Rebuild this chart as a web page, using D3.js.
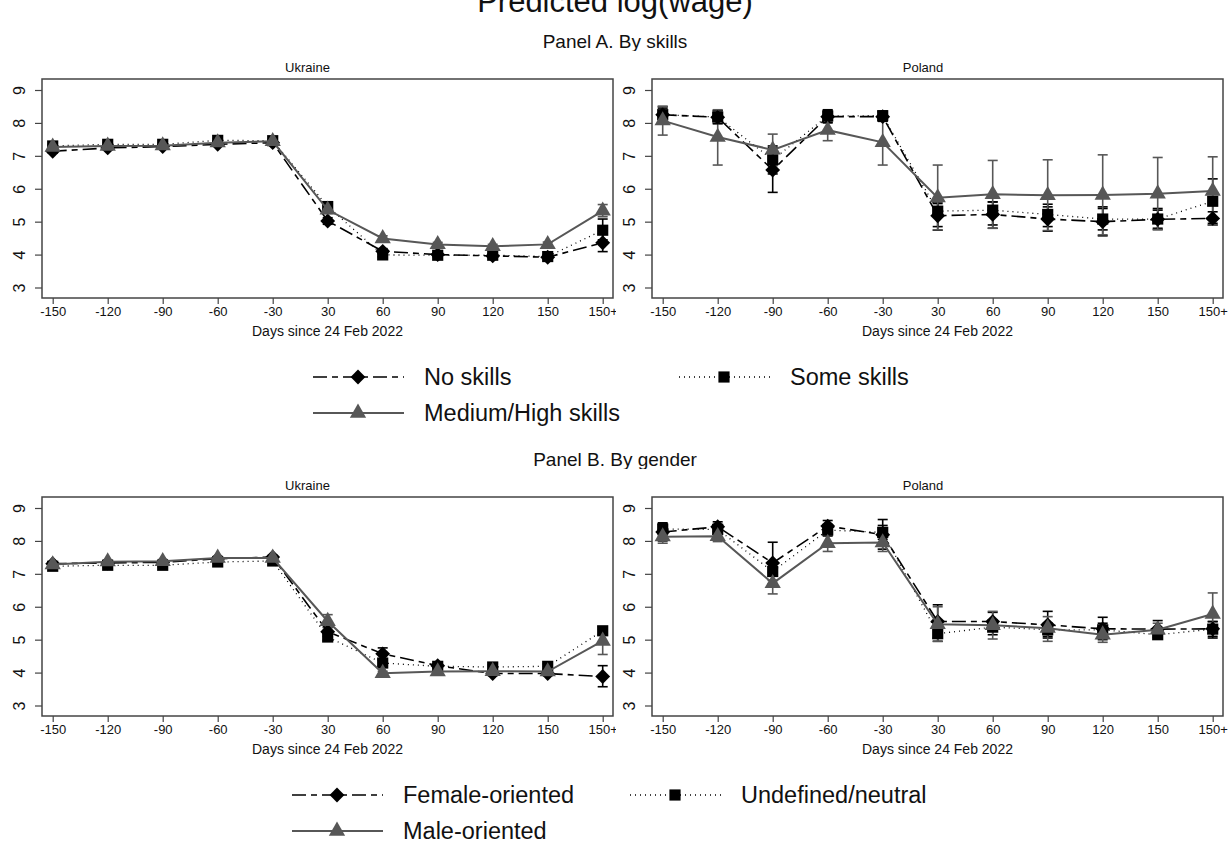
<!DOCTYPE html>
<html lang="en">
<head>
<meta charset="utf-8">
<script src="https://cdnjs.cloudflare.com/ajax/libs/d3/7.8.5/d3.min.js"></script>
<style>
  body { margin: 0; background: #fff; }
  svg { font-family: "Liberation Sans", Arial, sans-serif; display: block; }
  .axis path, .axis line { stroke: #444; stroke-width: 1.2; }
  .axis text { fill: #111; font-size: 13px; }
</style>
</head>
<body>
<svg width="1230" height="843"></svg>
<script>
// x categories (days since 24 Feb 2022)
var days = ["-150", "-120", "-90", "-60", "-30", "30", "60", "90", "120", "150", "150+"];
var yTicks = [3, 4, 5, 6, 7, 8, 9];

// Panel A - Ukraine, by skills
var uaNoSkills     = [7.14, 7.24, 7.28, 7.35, 7.40, 5.02, 4.10, 4.00, 3.96, 3.92, 4.36];
var uaNoSkillsLo   = [7.08, 7.19, 7.23, 7.30, 7.35, 4.92, 4.02, 3.94, 3.90, 3.85, 4.09];
var uaNoSkillsHi   = [7.20, 7.29, 7.33, 7.40, 7.45, 5.12, 4.18, 4.06, 4.02, 3.99, 4.63];
var uaSomeSkills   = [7.30, 7.35, 7.35, 7.47, 7.46, 5.46, 3.99, 3.98, 3.98, 3.94, 4.74];
var uaSomeSkillsLo = [7.25, 7.30, 7.30, 7.42, 7.41, 5.36, 3.93, 3.93, 3.93, 3.88, 4.45];
var uaSomeSkillsHi = [7.35, 7.40, 7.40, 7.52, 7.51, 5.56, 4.05, 4.03, 4.03, 4.00, 5.08];
var uaMedSkills    = [7.27, 7.30, 7.31, 7.40, 7.44, 5.36, 4.49, 4.31, 4.25, 4.31, 5.33];
var uaMedSkillsLo  = [7.22, 7.25, 7.26, 7.35, 7.39, 5.25, 4.42, 4.25, 4.19, 4.24, 5.15];
var uaMedSkillsHi  = [7.32, 7.35, 7.36, 7.45, 7.49, 5.50, 4.57, 4.37, 4.31, 4.38, 5.52];

// Panel A - Poland, by skills
var plNoSkills     = [8.25, 8.17, 6.57, 8.19, 8.19, 5.18, 5.22, 5.08, 5.00, 5.07, 5.10];
var plNoSkillsLo   = [8.05, 7.98, 5.89, 8.00, 8.05, 4.74, 4.80, 4.71, 4.57, 4.76, 4.90];
var plNoSkillsHi   = [8.45, 8.37, 7.25, 8.38, 8.33, 5.55, 5.60, 5.45, 5.45, 5.40, 5.30];
var plSomeSkills   = [8.25, 8.18, 6.88, 8.21, 8.22, 5.32, 5.35, 5.22, 5.08, 5.08, 5.62];
var plSomeSkillsLo = [8.00, 7.98, 6.45, 8.02, 8.05, 4.85, 4.90, 4.85, 4.75, 4.80, 4.95];
var plSomeSkillsHi = [8.50, 8.38, 7.30, 8.40, 8.36, 5.60, 5.60, 5.53, 5.40, 5.35, 6.30];
var plMedSkills    = [8.07, 7.57, 7.18, 7.78, 7.41, 5.73, 5.83, 5.80, 5.81, 5.85, 5.93];
var plMedSkillsLo  = [7.63, 6.72, 6.70, 7.46, 6.72, 4.75, 4.80, 4.73, 4.60, 4.76, 4.90];
var plMedSkillsHi  = [8.50, 8.40, 7.66, 8.10, 8.10, 6.72, 6.86, 6.88, 7.03, 6.95, 6.97];

// Panel B - Ukraine, by gender
var uaFemale     = [7.31, 7.33, 7.35, 7.46, 7.51, 5.24, 4.57, 4.21, 3.97, 3.97, 3.88];
var uaFemaleLo   = [7.26, 7.28, 7.30, 7.41, 7.46, 5.10, 4.40, 4.14, 3.91, 3.91, 3.57];
var uaFemaleHi   = [7.36, 7.38, 7.40, 7.51, 7.56, 5.38, 4.75, 4.28, 4.03, 4.03, 4.21];
var uaNeutral    = [7.23, 7.26, 7.26, 7.36, 7.39, 5.08, 4.29, 4.19, 4.17, 4.19, 5.27];
var uaNeutralLo  = [7.18, 7.21, 7.21, 7.31, 7.34, 4.98, 4.20, 4.13, 4.11, 4.12, 5.15];
var uaNeutralHi  = [7.28, 7.31, 7.31, 7.41, 7.44, 5.18, 4.38, 4.25, 4.23, 4.26, 5.39];
var uaMale       = [7.28, 7.37, 7.38, 7.48, 7.48, 5.56, 3.98, 4.03, 4.04, 4.03, 4.96];
var uaMaleLo     = [7.23, 7.32, 7.33, 7.43, 7.43, 5.36, 3.92, 3.97, 3.98, 3.97, 4.55];
var uaMaleHi     = [7.33, 7.42, 7.43, 7.53, 7.53, 5.76, 4.04, 4.09, 4.10, 4.09, 5.32];

// Panel B - Poland, by gender
var plFemale     = [8.27, 8.43, 7.33, 8.45, 8.19, 5.55, 5.55, 5.45, 5.33, 5.32, 5.33];
var plFemaleLo   = [8.00, 8.27, 6.70, 8.27, 7.75, 5.05, 5.28, 5.05, 5.00, 5.15, 5.05];
var plFemaleHi   = [8.52, 8.58, 7.96, 8.62, 8.65, 6.06, 5.83, 5.86, 5.68, 5.58, 5.55];
var plNeutral    = [8.36, 8.35, 7.07, 8.33, 8.26, 5.18, 5.38, 5.30, 5.30, 5.15, 5.32];
var plNeutralLo  = [8.15, 8.20, 6.80, 8.15, 8.05, 4.95, 5.15, 5.10, 5.10, 5.07, 5.10];
var plNeutralHi  = [8.55, 8.50, 7.35, 8.50, 8.47, 5.45, 5.60, 5.50, 5.50, 5.25, 5.55];
var plMale       = [8.13, 8.14, 6.71, 7.93, 7.95, 5.47, 5.44, 5.35, 5.15, 5.30, 5.78];
var plMaleLo     = [7.93, 7.98, 6.39, 7.68, 7.68, 4.95, 5.02, 4.95, 4.92, 5.10, 5.20];
var plMaleHi     = [8.33, 8.30, 7.05, 8.18, 8.22, 6.00, 5.86, 5.70, 5.40, 5.50, 6.42];

var skillNames  = ["No skills", "Some skills", "Medium/High skills"];
var genderNames = ["Female-oriented", "Undefined/neutral", "Male-oriented"];

// line / marker styles for series 0,1,2 (diamond = square turned 45deg)
var styles = [
  { color: "#000", dash: "14,5,6,5", width: 1.6, symbol: d3.symbolSquare, size: 110, rot: 45 },
  { color: "#000", dash: "1,4", width: 1.3, symbol: d3.symbolSquare, size: 125, rot: 0 },
  { color: "#575757", dash: null, width: 2, symbol: d3.symbolTriangle, size: 115, rot: 0 }
];

var svg = d3.select("svg");
svg.append("rect").attr("width", 1230).attr("height", 843).attr("fill", "#fff");

// title cut off at the top, as in the source image
svg.append("text").attr("x", 615).attr("y", 12).attr("text-anchor", "middle")
  .attr("font-size", 31).attr("fill", "#111").text("Predicted log(wage)");

svg.append("text").attr("x", 615).attr("y", 48).attr("text-anchor", "middle")
  .attr("font-size", 19).attr("fill", "#111").text("Panel A. By skills");
svg.append("text").attr("x", 615).attr("y", 466).attr("text-anchor", "middle")
  .attr("font-size", 19).attr("fill", "#111").text("Panel B. By gender");

function drawPanel(box, title, series) {
  var g = svg.append("g");
  // white background of subgraph (covers overflow of neighbour)
  g.append("rect").attr("x", box.gx).attr("y", box.y0 - 28).attr("width", box.gw)
    .attr("height", box.y1 - box.y0 + 70).attr("fill", "#fff");

  var x = d3.scalePoint().domain(days).range([box.x0 + 10.7, box.x1 - 10.3]);
  var y = d3.scaleLinear().domain([3, 9]).range([box.y1 - 10.5, box.y0 + 11]);

  g.append("text").attr("x", box.gx + box.gw / 2).attr("y", box.y0 - 7)
    .attr("text-anchor", "middle").attr("font-size", 13).attr("fill", "#111").text(title);

  g.append("rect").attr("x", box.x0).attr("y", box.y0)
    .attr("width", box.x1 - box.x0).attr("height", box.y1 - box.y0)
    .attr("fill", "none").attr("stroke", "#444").attr("stroke-width", 1.5);

  var ya = g.append("g").attr("class", "axis")
    .attr("transform", "translate(" + box.x0 + ",0)")
    .call(d3.axisLeft(y).tickValues(yTicks).tickSize(7).tickFormat(d3.format("d")));
  ya.select(".domain").remove();
  ya.selectAll("text")
    .attr("x", 0)
    .attr("transform", "translate(-23,0) rotate(-90)")
    .attr("dy", "0.35em").attr("text-anchor", "middle")
    .style("font-size", "16px");

  var xa = g.append("g").attr("class", "axis")
    .attr("transform", "translate(0," + box.y1 + ")")
    .call(d3.axisBottom(x).tickSize(6).tickPadding(3));
  xa.select(".domain").remove();

  g.append("text").attr("x", (box.x0 + box.x1) / 2).attr("y", box.y1 + 38)
    .attr("text-anchor", "middle").attr("font-size", 14).attr("fill", "#111")
    .text("Days since 24 Feb 2022");

  // error bars first
  series.forEach(function(s, k) {
    var st = styles[k];
    var eb = g.append("g").attr("stroke", st.color).attr("stroke-width", 1.6);
    days.forEach(function(d, i) {
      var cx = x(d);
      eb.append("line").attr("x1", cx).attr("x2", cx)
        .attr("y1", y(s.lo[i])).attr("y2", y(s.hi[i]));
      [s.lo[i], s.hi[i]].forEach(function(v) {
        eb.append("line").attr("x1", cx - 5).attr("x2", cx + 5)
          .attr("y1", y(v)).attr("y2", y(v));
      });
    });
  });

  series.forEach(function(s, k) {
    var st = styles[k];
    var line = d3.line().x(function(d, i) { return x(days[i]); }).y(function(d) { return y(d); });
    g.append("path").datum(s.v).attr("d", line).attr("fill", "none")
      .attr("stroke", st.color).attr("stroke-width", st.width)
      .attr("stroke-dasharray", st.dash);
    g.selectAll(null).data(s.v).enter().append("path")
      .attr("d", d3.symbol().type(st.symbol).size(st.size))
      .attr("transform", function(d, i) {
        return "translate(" + x(days[i]) + "," + y(d) + ") rotate(" + st.rot + ")";
      })
      .attr("fill", st.color);
  });
}

function legend(ly, names, xs) {
  // xs: [line start for col1, line start for col2]
  var pos = [[xs[0], ly], [xs[1], ly], [xs[0], ly + 36]];
  names.forEach(function(n, k) {
    var st = styles[k];
    var lx = pos[k][0], yy = pos[k][1];
    var g = svg.append("g");
    g.append("line").attr("x1", lx).attr("x2", lx + 91).attr("y1", yy).attr("y2", yy)
      .attr("stroke", st.color).attr("stroke-width", st.width).attr("stroke-dasharray", st.dash);
    g.append("path").attr("d", d3.symbol().type(st.symbol).size(st.size))
      .attr("transform", "translate(" + (lx + 45) + "," + yy + ") rotate(" + st.rot + ")")
      .attr("fill", st.color);
    g.append("text").attr("x", lx + 111).attr("y", yy).attr("dy", "0.35em")
      .attr("font-size", 23.5).attr("fill", "#111").text(n);
  });
}

var top0 = 79, top1 = 298, bot0 = 497, bot1 = 716;

function mk(v, lo, hi) { return { v: v, lo: lo, hi: hi }; }

drawPanel({ gx: 0, gw: 615, x0: 42, x1: 613, y0: top0, y1: top1 }, "Ukraine", [
  mk(uaNoSkills, uaNoSkillsLo, uaNoSkillsHi),
  mk(uaSomeSkills, uaSomeSkillsLo, uaSomeSkillsHi),
  mk(uaMedSkills, uaMedSkillsLo, uaMedSkillsHi)]);
drawPanel({ gx: 616, gw: 614, x0: 652, x1: 1223, y0: top0, y1: top1 }, "Poland", [
  mk(plNoSkills, plNoSkillsLo, plNoSkillsHi),
  mk(plSomeSkills, plSomeSkillsLo, plSomeSkillsHi),
  mk(plMedSkills, plMedSkillsLo, plMedSkillsHi)]);
drawPanel({ gx: 0, gw: 615, x0: 42, x1: 613, y0: bot0, y1: bot1 }, "Ukraine", [
  mk(uaFemale, uaFemaleLo, uaFemaleHi),
  mk(uaNeutral, uaNeutralLo, uaNeutralHi),
  mk(uaMale, uaMaleLo, uaMaleHi)]);
drawPanel({ gx: 616, gw: 614, x0: 652, x1: 1223, y0: bot0, y1: bot1 }, "Poland", [
  mk(plFemale, plFemaleLo, plFemaleHi),
  mk(plNeutral, plNeutralLo, plNeutralHi),
  mk(plMale, plMaleLo, plMaleHi)]);

legend(377, skillNames, [313, 679]);
legend(795, genderNames, [292, 630]);
</script>
</body>
</html>
